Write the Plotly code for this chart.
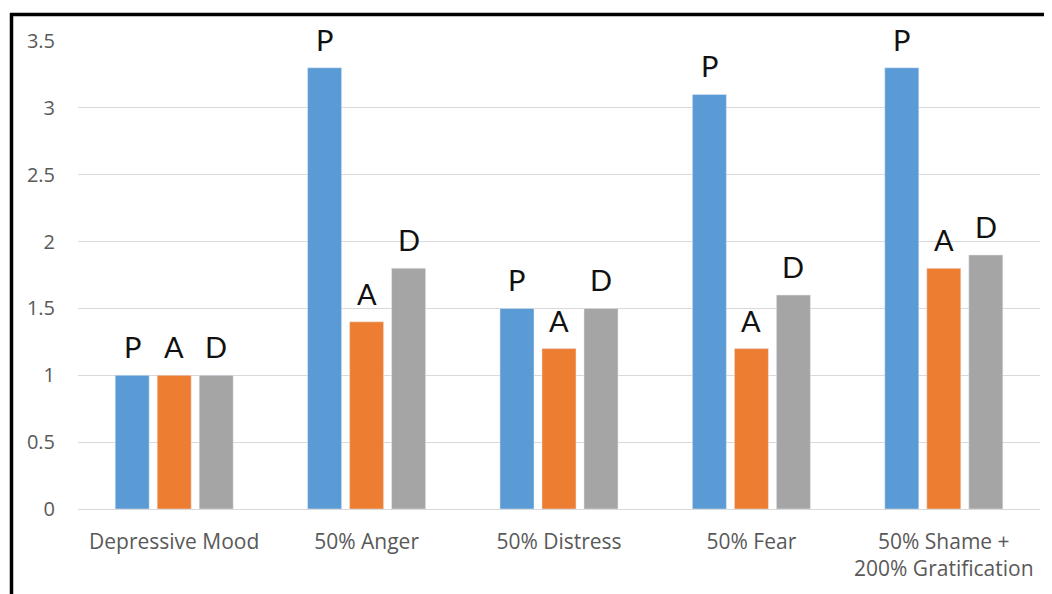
import plotly.graph_objects as go

categories = ["Depressive Mood", "50% Anger", "50% Distress", "50% Fear", "50% Shame +<br>200% Gratification"]
p_values = [1.0, 3.3, 1.5, 3.1, 3.3]
a_values = [1.0, 1.4, 1.2, 1.2, 1.8]
d_values = [1.0, 1.8, 1.5, 1.6, 1.9]
series_names = ["P", "A", "D"]
series_values = [p_values, a_values, d_values]
series_colors = ["#5b9bd5", "#ed7d31", "#a5a5a5"]

FIG_W, FIG_H = 1044, 586          # page has an 8px body margin
PLOT_L, PLOT_T, PLOT_W, PLOT_H = 70, 33, 962, 468
BARGAP, GROUPGAP = 0.345, 0.19
slot_px = (1 - BARGAP) * (PLOT_W / len(categories)) / len(series_names)

fig = go.Figure()
annotations = []
for i, (name, vals, color) in enumerate(zip(series_names, series_values, series_colors)):
    fig.add_trace(go.Bar(x=categories, y=vals, name=name, marker_color=color))
    for cat, v in zip(categories, vals):
        annotations.append(dict(
            x=cat, y=v, xref="x", yref="y", text=name, showarrow=False,
            xanchor="center", yanchor="bottom",
            xshift=(i - 1) * slot_px, yshift=9,
            font=dict(family="Lato, Open Sans, sans-serif", size=29, color="#111111"),
        ))

def px(x): return (x - 8 - PLOT_L) / PLOT_W
def py(y): return (PLOT_T + PLOT_H - (y - 8)) / PLOT_H

fig.update_layout(
    width=FIG_W, height=FIG_H,
    margin=dict(l=PLOT_L, r=FIG_W - PLOT_L - PLOT_W, t=PLOT_T, b=FIG_H - PLOT_T - PLOT_H),
    paper_bgcolor="white", plot_bgcolor="white",
    showlegend=False,
    barmode="group", bargap=BARGAP, bargroupgap=GROUPGAP,
    xaxis=dict(showline=False, ticks="", tickfont=dict(family="Open Sans, sans-serif", size=21, color="#595959"),
               ticklabelstandoff=18),
    yaxis=dict(range=[0, 3.5], dtick=0.5, showgrid=True, gridcolor="#d9d9d9", gridwidth=1,
               zeroline=True, zerolinecolor="#d9d9d9", zerolinewidth=1, showline=False, ticks="",
               tickfont=dict(family="Open Sans, sans-serif", size=20, color="#595959"),
               ticklabelstandoff=22, tickformat="~g"),
    annotations=annotations,
    shapes=[
        dict(type="line", xref="paper", yref="paper", x0=px(10), x1=px(1070), y0=py(14.5), y1=py(14.5),
             line=dict(color="black", width=3.5)),
        dict(type="line", xref="paper", yref="paper", x0=px(11.5), x1=px(11.5), y0=py(13), y1=py(620),
             line=dict(color="black", width=3.5)),
    ],
)
fig.write_html("out.html")
